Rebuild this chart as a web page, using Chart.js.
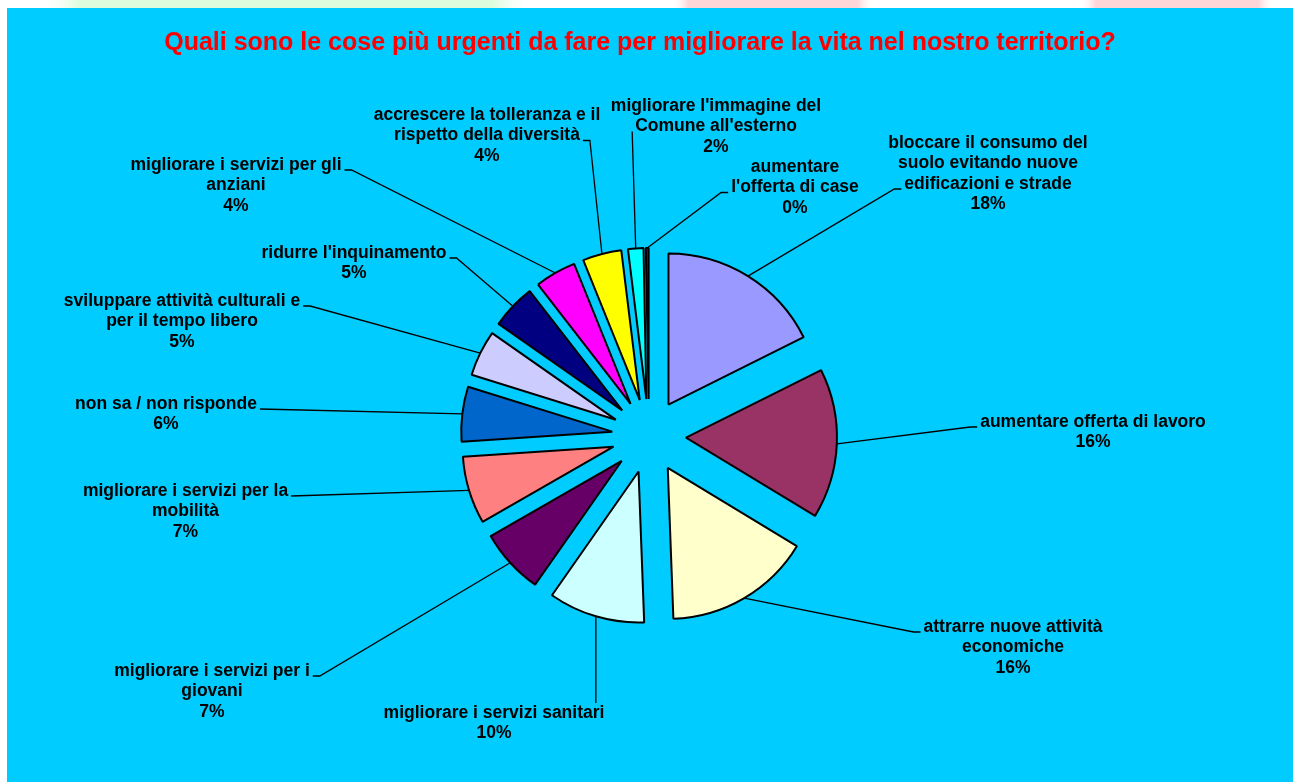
<!DOCTYPE html>
<html><head><meta charset="utf-8">
<script src="https://cdn.jsdelivr.net/npm/chart.js@4/dist/chart.umd.min.js"></script>
<style>html,body{margin:0;padding:0;background:#fff;overflow:hidden}canvas{display:block}</style>
</head><body>
<canvas id="c" width="1293" height="782"></canvas>
<script>
const titleText = "Quali sono le cose più urgenti da fare per migliorare la vita nel nostro territorio?";
const categories = [
  ["bloccare il consumo del", "suolo evitando nuove", "edificazioni e strade"],
  ["aumentare offerta di lavoro"],
  ["attrarre nuove attività", "economiche"],
  ["migliorare i servizi sanitari"],
  ["migliorare i servizi per i", "giovani"],
  ["migliorare i servizi per la", "mobilità"],
  ["non sa / non risponde"],
  ["sviluppare attività culturali e", "per il tempo libero"],
  ["ridurre l'inquinamento"],
  ["migliorare i servizi per gli", "anziani"],
  ["accrescere la tolleranza e il", "rispetto della diversità"],
  ["migliorare l'immagine del", "Comune all'esterno"],
  ["aumentare", "l'offerta di case"]
];
const values = [17.64, 16.03, 15.72, 10.31, 7.0, 7.22, 5.86, 4.92, 4.78, 4.39, 4.15, 1.65, 0.3];
const colors = ["#9999FF", "#993366", "#FFFFCC", "#CCFFFF", "#660066", "#FF8080", "#0066CC",
                "#CCCCFF", "#000080", "#FF00FF", "#FFFF00", "#00FFFF", "#800080"];

// label placement (annotation layout): centre x, middle y of first line, leader side, attach line, stub length
const labelLayout = [
  {x: 988, y: 143, side: "L", line: 2, stub: 7},
  {x: 1093, y: 422, side: "L", line: 0, stub: 7},
  {x: 1013, y: 627, side: "L", line: 0, stub: 7},
  {x: 494, y: 713, side: "T", line: 0, stub: 0},
  {x: 212, y: 671, side: "R", line: 0, stub: 7},
  {x: 185.5, y: 491, side: "R", line: 0, stub: 0},
  {x: 166, y: 404, side: "R", line: 0, stub: 0},
  {x: 182, y: 301, side: "R", line: 0, stub: 7},
  {x: 354, y: 253, side: "R", line: 0, stub: 7},
  {x: 236, y: 165, side: "R", line: 0, stub: 7},
  {x: 487, y: 115, side: "R", line: 1, stub: 7},
  {x: 716, y: 106, side: "L", line: 1, stub: 0},
  {x: 795, y: 167, side: "L", line: 1, stub: 7}
];

const EXPLODE = 37;
const LABEL_FONT = "bold 17.5px 'Liberation Sans', Arial, sans-serif";
const LINE_H = 20.5;

const total = values.reduce((a, b) => a + b, 0);

const explodePlugin = {
  id: "explode",
  afterDatasetUpdate(chart, args) {
    args.meta.data.forEach(el => {
      const mid = (el.startAngle + el.endAngle) / 2;
      el.x += Math.cos(mid) * EXPLODE;
      el.y += Math.sin(mid) * EXPLODE;
    });
  }
};

const backgroundPlugin = {
  id: "bg",
  beforeDraw(chart) {
    const ctx = chart.ctx;
    ctx.save();
    ctx.fillStyle = "#ffffff";
    ctx.fillRect(0, 0, chart.width, chart.height);
    const blob = (x0, x1, col) => {
      const g = ctx.createLinearGradient(x0, 0, x1, 0);
      g.addColorStop(0, "rgba(255,255,255,0)");
      g.addColorStop(0.08, col);
      g.addColorStop(0.92, col);
      g.addColorStop(1, "rgba(255,255,255,0)");
      ctx.fillStyle = g;
      ctx.fillRect(x0, 0, x1 - x0, 8);
    };
    blob(40, 532, "#DDFCDD");
    blob(672, 874, "#FFD6D8");
    blob(1080, 1274, "#FFD6D8");
    ctx.fillStyle = "#00CCFF";
    ctx.fillRect(7, 8, chart.width - 7, chart.height - 8);
    ctx.restore();
  }
};

const labelPlugin = {
  id: "labels",
  afterDatasetsDraw(chart) {
    const ctx = chart.ctx;
    const meta = chart.getDatasetMeta(0);
    ctx.save();
    // title
    ctx.fillStyle = "#FF0000";
    ctx.font = "bold 25px 'Liberation Sans', Arial, sans-serif";
    ctx.textAlign = "center";
    ctx.textBaseline = "middle";
    ctx.fillText(titleText, 640, 43);

    ctx.font = LABEL_FONT;
    meta.data.forEach((el, i) => {
      const lay = labelLayout[i];
      const pct = Math.round(values[i] / total * 100) + "%";
      const lines = categories[i].concat([pct]);
      // leader line
      const mid = (el.startAngle + el.endAngle) / 2;
      const sx = el.x + Math.cos(mid) * el.outerRadius;
      const sy = el.y + Math.sin(mid) * el.outerRadius;
      const lineY = lay.y + lay.line * LINE_H;
      const w = ctx.measureText(lines[lay.line]).width;
      let ax, ay, bx;
      if (lay.side === "T") {
        ax = sx; ay = lay.y - 10; bx = ax;
      } else if (lay.side === "L") {
        bx = lay.x - w / 2 - 3; ay = lineY + 5; ax = bx - lay.stub;
      } else {
        bx = lay.x + w / 2 + 3; ay = lineY + 5; ax = bx + lay.stub;
      }
      ctx.strokeStyle = "#000";
      ctx.lineWidth = 1.3;
      ctx.beginPath();
      ctx.moveTo(sx, sy);
      ctx.lineTo(ax, ay);
      ctx.lineTo(bx, ay);
      ctx.stroke();
      // text
      ctx.fillStyle = "#000";
      ctx.textAlign = "center";
      ctx.textBaseline = "middle";
      lines.forEach((t, k) => ctx.fillText(t, lay.x, lay.y + k * LINE_H));
    });
    ctx.restore();
  }
};

new Chart(document.getElementById("c"), {
  type: "pie",
  data: {
    labels: categories.map(c => c.join(" ")),
    datasets: [{
      data: values,
      backgroundColor: colors,
      borderColor: "#000000",
      borderWidth: 2,
      hoverOffset: 0
    }]
  },
  options: {
    responsive: false,
    animation: false,
    devicePixelRatio: 1,
    radius: 151,
    layout: {padding: {left: 349, right: 344, top: 136, bottom: 46}},
    plugins: {legend: {display: false}, tooltip: {enabled: false}, title: {display: false}},
    events: []
  },
  plugins: [backgroundPlugin, explodePlugin, labelPlugin]
});
</script>
</body></html>
